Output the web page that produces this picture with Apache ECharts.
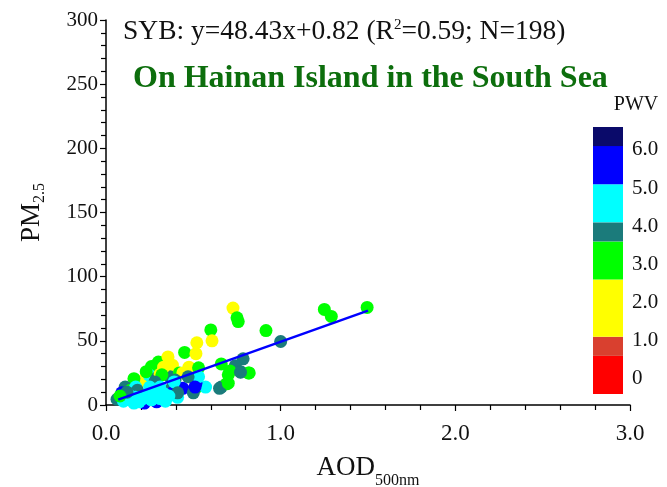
<!DOCTYPE html>
<html>
<head>
<meta charset="utf-8">
<script src="https://cdn.jsdelivr.net/npm/echarts@6/dist/echarts.min.js"></script>
<style>
html, body { margin: 0; padding: 0; background: #fff; }
#chart { width: 667px; height: 487px; }
</style>
</head>
<body>
<div id="chart"></div>
<script>
// AOD(500nm) / PM2.5 / PWV 散点，读图估计
var aod = [0.727, 0.75, 0.757, 0.916, 0.60, 1.0, 0.52, 0.607, 0.45, 0.515, 1.25, 1.29, 1.495,
	0.35, 0.30, 0.38, 0.26, 0.475, 0.53, 0.785, 0.66, 0.74, 0.77, 0.815, 0.71, 0.70, 0.66, 0.69,
	0.235, 0.21, 0.16, 0.246, 0.29, 0.366, 0.31, 0.42, 0.44, 0.395, 0.52, 0.57, 0.515, 0.44, 0.50,
	0.063, 0.355, 0.23, 0.33, 0.32, 0.28, 0.11, 0.14, 0.17, 0.18, 0.25, 0.31, 0.38, 0.09, 0.22,
	0.29, 0.38, 0.41, 0.53, 0.47, 0.39, 0.41, 0.51, 0.65, 0.70, 0.82, 0.77, 0.10, 0.12, 0.15,
	0.17, 0.19, 0.21, 0.24, 0.26, 0.28, 0.31, 0.34, 0.36, 0.13, 0.16, 0.33, 0.27, 0.12, 0.08];
var pm25 = [75.5, 68, 65, 58, 58.5, 49.5, 48.5, 50, 41, 40, 74.5, 69, 76,
	36, 33.5, 31, 30, 29.5, 29, 36, 32, 30.5, 26, 25, 26.5, 23.5, 14, 16.5,
	24.5, 19, 20.5, 23.5, 21, 22, 24, 25, 25, 19.5, 14, 14, 17, 13, 9.5,
	4.5, 37.5, 26, 29.5, 23.5, 18, 14, 11.5, 14, 11.5, 14, 14, 14, 9.5, 1.5,
	2.5, 9.5, 6, 22, 22, 18, 9.5, 14, 13, 17, 25, 25.5, 3, 5, 3,
	6, 2.5, 5, 8, 4, 7, 5, 3, 7, 8, 1.5, 9, 11, 10, 7];
var pwv = [2.0, 3.0, 3.0, 3.0, 3.0, 3.9, 2.0, 2.0, 3.0, 2.0, 3.0, 3.0, 3.0,
	2.0, 3.0, 2.0, 3.0, 2.0, 3.0, 3.9, 3.0, 3.9, 3.9, 3.0, 3.0, 3.0, 3.9, 3.0,
	2.0, 2.0, 3.0, 4.6, 3.9, 3.9, 2.0, 3.0, 2.0, 3.9, 3.0, 4.6, 5.6, 5.6, 3.9,
	3.9, 2.0, 3.0, 2.0, 3.0, 3.9, 3.9, 3.0, 4.6, 3.9, 4.6, 4.6, 3.9, 5.6, 5.6,
	5.6, 5.6, 4.6, 4.6, 3.9, 4.6, 3.9, 5.6, 3.9, 3.0, 3.0, 3.9, 4.6, 4.6, 4.6,
	4.6, 4.6, 4.6, 4.6, 4.6, 4.6, 4.6, 4.6, 4.6, 4.6, 4.6, 4.6, 4.6, 3.9, 3.0];

// 拟合线 y=48.43x+0.82 两端
var fitX = [0.07, 1.5];
var fitY = [4.2, 73.5];

// PWV 色标分段
var pwvEdges = [-0.4, 0.6, 1.1, 2.6, 3.6, 4.1, 5.1, 6.1, 6.6];
var pwvColors = ['#ff0000', '#d9402f', '#ffff00', '#00ff00', '#1b7b7b', '#00ffff', '#0000ff', '#0a0a6a'];
var pwvTicks = [0, 1, 2, 3, 4, 5, 6];

var xTicks = [0, 1, 2, 3];
var yTicks = [0, 50, 100, 150, 200, 250, 300];

var myChart = echarts.init(document.getElementById('chart'));

var font = '"Liberation Serif", "Times New Roman", serif';

var points = [];
for (var i = 0; i < aod.length; i++) {
	points.push([aod[i], pm25[i], pwv[i]]);
}
var fitLine = [];
for (var i = 0; i < fitX.length; i++) {
	fitLine.push([fitX[i], fitY[i]]);
}

var pieces = [];
var bands = [];
for (var i = 0; i < pwvColors.length; i++) {
	pieces.push({ gte: pwvEdges[i], lt: pwvEdges[i + 1], color: pwvColors[i] });
	bands.push([
		{ yAxis: pwvEdges[i], itemStyle: { color: pwvColors[i], opacity: 1 } },
		{ yAxis: pwvEdges[i + 1] }
	]);
}

var option = {
	backgroundColor: '#ffffff',
	animation: false,
	title: [{
		text: 'SYB: y=48.43x+0.82 (R{sup|2}=0.59; N=198)',
		left: 118, top: 13,
		textStyle: {
			fontFamily: font, fontSize: 27.5, fontWeight: 'normal', color: '#111',
			rich: { sup: { fontFamily: font, fontSize: 15, verticalAlign: 'top', padding: [0, 0, 13, 0], color: '#111' } }
		}
	}, {
		text: 'On Hainan Island in the South Sea',
		left: 128, top: 58,
		textStyle: { fontFamily: font, fontSize: 32, fontWeight: 'bold', color: '#0d6e0d' }
	}],
	visualMap: {
		type: 'piecewise', show: false, dimension: 2, seriesIndex: 0, pieces: pieces
	},
	grid: [
		{ left: 106, right: 37, top: 20, bottom: 82, outerBoundsMode: 'none' },
		{ left: 593, width: 30, top: 127, height: 267, outerBoundsMode: 'none' }
	],
	xAxis: [{
		type: 'value', min: 0, max: 3, interval: 1,
		name: 'AOD{sub|500nm}', nameLocation: 'middle', nameGap: 42,
		nameTextStyle: {
			fontFamily: font, fontSize: 27, color: '#111',
			rich: { sub: { fontFamily: font, fontSize: 16, verticalAlign: 'bottom', padding: [26, 0, 0, 0], color: '#111' } }
		},
		axisLine: { lineStyle: { color: '#000', width: 1.5 } },
		axisTick: { length: 6, lineStyle: { color: '#000', width: 1.2 } },
		minorTick: { show: true, splitNumber: 5, length: 5, lineStyle: { color: '#000', width: 1.2 } },
		splitLine: { show: false },
		axisLabel: {
			margin: 17, fontFamily: font, fontSize: 23, color: '#111',
			customValues: xTicks,
			formatter: function (v) { return v.toFixed(1); }
		}
	}, {
		type: 'category', gridIndex: 1, data: ['PWV'],
		show: false
	}],
	yAxis: [{
		type: 'value', min: 0, max: 300, interval: 50,
		name: 'PM{sub|2.5}', nameLocation: 'middle', nameGap: 58, nameRotate: 90,
		nameTextStyle: {
			fontFamily: font, fontSize: 27, color: '#111',
			rich: { sub: { fontFamily: font, fontSize: 16, verticalAlign: 'bottom', padding: [16, 0, 0, 0], color: '#111' } }
		},
		axisLine: { show: true, lineStyle: { color: '#000', width: 1.5 } },
		axisTick: { show: true, length: 6, lineStyle: { color: '#000', width: 1.2 } },
		minorTick: { show: true, splitNumber: 5, length: 5, lineStyle: { color: '#000', width: 1.2 } },
		splitLine: { show: false },
		axisLabel: { margin: 8, fontFamily: font, fontSize: 21, color: '#111', customValues: yTicks }
	}, {
		type: 'value', gridIndex: 1, position: 'right', min: -0.4, max: 6.6,
		name: 'PWV', nameLocation: 'end', nameGap: 12,
		nameTextStyle: { fontFamily: font, fontSize: 20, color: '#111', padding: [0, 0, 0, 26] },
		axisLine: { show: false },
		axisTick: { show: false },
		splitLine: { show: false },
		axisLabel: {
			margin: 9, fontFamily: font, fontSize: 21, color: '#111',
			customValues: pwvTicks,
			formatter: function (v) { return v === 0 ? '0' : v.toFixed(1); }
		}
	}],
	series: [{
		type: 'scatter',
		data: points,
		symbolSize: 13,
		itemStyle: { opacity: 1 },
		silent: true
	}, {
		type: 'line',
		data: fitLine,
		symbol: 'none',
		lineStyle: { color: '#0000ff', width: 2.5 },
		z: 5,
		silent: true
	}, {
		// 色标
		type: 'line',
		xAxisIndex: 1,
		yAxisIndex: 1,
		data: [],
		silent: true,
		markArea: { silent: true, data: bands }
	}]
};

myChart.setOption(option);
</script>
</body>
</html>
